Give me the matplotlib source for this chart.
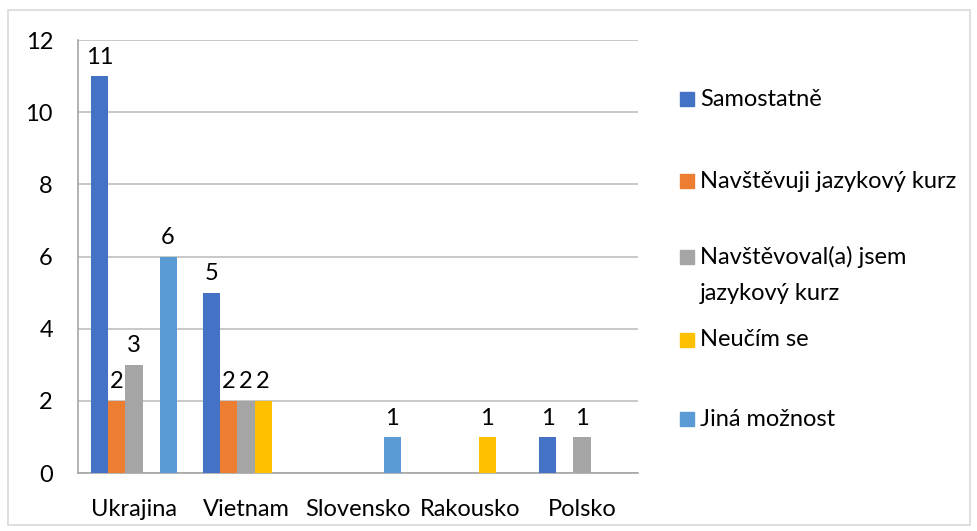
import matplotlib
matplotlib.use("Agg")
import matplotlib.pyplot as plt
from matplotlib.patches import Rectangle
import numpy as np

categories = ["Ukrajina", "Vietnam", "Slovensko", "Rakousko", "Polsko"]
series_names = ["Samostatně", "Navštěvuji jazykový kurz",
                "Navštěvoval(a) jsem\njazykový kurz", "Neučím se", "Jiná možnost"]
samostatne = [11, 5, 0, 0, 1]
navstevuji = [2, 2, 0, 0, 0]
navstevoval = [3, 2, 0, 0, 1]
neucim = [0, 2, 0, 1, 0]
jina = [6, 0, 1, 0, 0]
series_values = [samostatne, navstevuji, navstevoval, neucim, jina]
colors = ["#4472C4", "#ED7D31", "#A5A5A5", "#FFC000", "#5B9BD5"]
yticks = [0, 2, 4, 6, 8, 10, 12]

FS = 17
plt.rcParams['font.family'] = ['Lato', 'DejaVu Sans']
fig = plt.figure(figsize=(9.78, 5.31), dpi=100)
ax = fig.add_axes([78/978, 1-473/531, 560/978, 433/531])

n = len(series_values)
bw = 0.152
x = np.arange(len(categories))
for i, (vals, c) in enumerate(zip(series_values, colors)):
    pos = x + (i - (n - 1) / 2) * bw
    bars = ax.bar(pos, vals, bw, color=c, zorder=3)
    for b, v in zip(bars, vals):
        if v > 0:
            ax.annotate(str(v), (b.get_x() + b.get_width() / 2, v),
                        xytext=(0, 6), textcoords="offset points",
                        ha="center", va="bottom", fontsize=FS, color="#000000")

ax.set_xlim(-0.5, len(categories) - 0.5)
ax.set_ylim(0, 12)
ax.set_yticks(yticks)
ax.set_yticklabels([str(t) for t in yticks], fontsize=FS)
ax.set_xticks(x)
ax.set_xticklabels(categories, fontsize=FS)
ax.tick_params(axis="y", length=0, pad=18)
ax.tick_params(axis="x", length=0, pad=19)
ax.yaxis.grid(True, color="#BFBFBF", linewidth=1.2, zorder=0)
for s in ["top", "right"]:
    ax.spines[s].set_visible(False)
for s in ["left", "bottom"]:
    ax.spines[s].set_color("#A6A6A6")
    ax.spines[s].set_linewidth(1.2)

# legend (manual placement)
leg_y = [99, 181, 257, 340, 419]
for name, c, yy in zip(series_names, colors, leg_y):
    fig.patches.append(Rectangle((680/978, 1 - (yy + 7) / 531), 14/978, 14/531,
                                 transform=fig.transFigure, color=c))
    if "\n" in name:
        lines = name.split("\n")
        for k, ln in enumerate(lines):
            fig.text(700/978, 1 - (yy + 36 * k) / 531, ln, fontsize=FS,
                     va="center", ha="left")
    else:
        fig.text(700/978, 1 - yy / 531, name, fontsize=FS, va="center", ha="left")

fig.patches.append(Rectangle((8/978, 6/531), 962/978, 515/531, transform=fig.transFigure,
                             fill=False, edgecolor="#D9D9D9", linewidth=1.2))

fig.savefig("out.png", dpi=100)
